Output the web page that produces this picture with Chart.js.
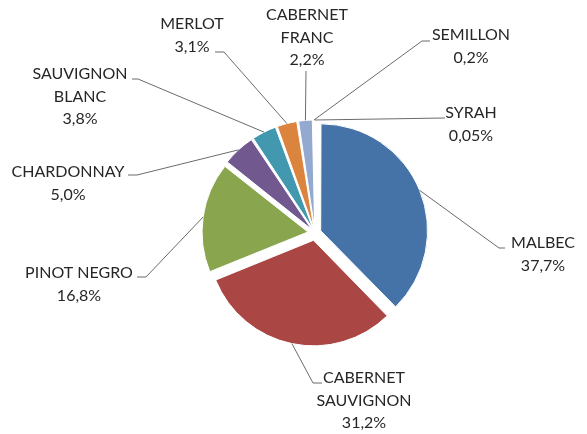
<!DOCTYPE html>
<html>
<head>
<meta charset="utf-8">
<script src="https://cdn.jsdelivr.net/npm/chart.js@4.4.0/dist/chart.umd.min.js"></script>
<style>
  html, body { margin: 0; padding: 0; background: #fff; }
  #wrap { width: 587px; height: 434px; }
</style>
</head>
<body>
<div id="wrap"><canvas id="vinosChart" width="587" height="434"></canvas></div>
<script>
    const grapes = ['MALBEC', 'CABERNET SAUVIGNON', 'PINOT NEGRO', 'CHARDONNAY', 'SAUVIGNON BLANC', 'MERLOT', 'CABERNET FRANC', 'SEMILLON', 'SYRAH'];
    const shares = [37.7, 31.2, 16.8, 5.0, 3.8, 3.1, 2.2, 0.2, 0.05];
    // how each name wraps in its label
    const nameLines = [['MALBEC'], ['CABERNET', 'SAUVIGNON'], ['PINOT NEGRO'], ['CHARDONNAY'], ['SAUVIGNON', 'BLANC'], ['MERLOT'], ['CABERNET', 'FRANC'], ['SEMILLON'], ['SYRAH']];
    const sliceColors = ['#4572A7', '#AA4643', '#89A54E', '#71588F', '#4198AF', '#DB843D', '#93A9CF', '#D19392', '#B9CD96'];

    const explode = 8; // px every slice is pulled out
    const total = shares.reduce((a, b) => a + b, 0);

    // label spots, placed by hand like in the spreadsheet: text centre + first line y,
    // leader points starting at the label side (slice edge is added in the plugin)
    const labelSpots = [
        { x: 543, y: 243, leader: [[505, 248], [499, 248]] },
        { x: 364, y: 378, leader: [[322, 383], [313, 383]] },
        { x: 79, y: 273, leader: [[137, 277], [146, 277]] },
        { x: 68, y: 172, leader: [[128, 175], [137, 175]] },
        { x: 80, y: 74, leader: [[132, 79], [138, 79]] },
        { x: 192, y: 24, leader: [[215, 52], [224, 52]] },
        { x: 307, y: 15, leader: [[306, 71]] },
        { x: 471, y: 35, leader: [[430, 41], [422, 41]] },
        { x: 471, y: 113, leader: [[445, 118]] }
    ];

    const fmtPct = v => v.toFixed(v < 0.1 ? 2 : 1).replace('.', ',') + '%';

    const leaderLabels = {
        id: 'leaderLabels',
        afterDatasetsDraw(chart) {
            const ctx = chart.ctx;
            const arcs = chart.getDatasetMeta(0).data;
            ctx.save();
            arcs.forEach((arc, i) => {
                const p = arc.getProps(['x', 'y', 'startAngle', 'endAngle', 'outerRadius'], true);
                const mid = (p.startAngle + p.endAngle) / 2;
                const r = p.outerRadius + explode;
                const ex = p.x + Math.cos(mid) * r;
                const ey = p.y + Math.sin(mid) * r;
                const spot = labelSpots[i];

                ctx.strokeStyle = '#6b6b6b';
                ctx.lineWidth = 1;
                ctx.beginPath();
                spot.leader.forEach((pt, k) => k ? ctx.lineTo(pt[0], pt[1]) : ctx.moveTo(pt[0], pt[1]));
                ctx.lineTo(ex, ey);
                ctx.stroke();

                const lines = nameLines[i].concat([fmtPct(shares[i])]);
                ctx.fillStyle = '#262626';
                ctx.font = '16px Lato';
                ctx.textAlign = 'center';
                ctx.textBaseline = 'middle';
                lines.forEach((t, k) => ctx.fillText(t, spot.x, spot.y + k * 22.5));
            });
            ctx.restore();
        }
    };

    const ctx1 = document.getElementById('vinosChart').getContext('2d');
    const vinosChart = new Chart(ctx1, {
        type: 'pie',
        data: {
            labels: grapes,
            datasets: [{
                data: shares,
                backgroundColor: sliceColors,
                borderColor: '#fff',
                borderWidth: 1,
                // chart.js moves a slice by offset/4*(1+fix); undo that so every slice moves 'explode' px
                offset: c => {
                    const circ = c.parsed / total * 2 * Math.PI;
                    const fix = 1 - Math.sin(Math.min(Math.PI, circ));
                    return explode * 4 / (1 + fix);
                }
            }]
        },
        options: {
            responsive: false,
            animation: false,
            radius: 105,
            layout: { padding: { left: 43, top: 32, right: 0, bottom: 0 } },
            plugins: {
                legend: { display: false },
                tooltip: { enabled: false }
            }
        },
        plugins: [leaderLabels]
    });
</script>
</body>
</html>
